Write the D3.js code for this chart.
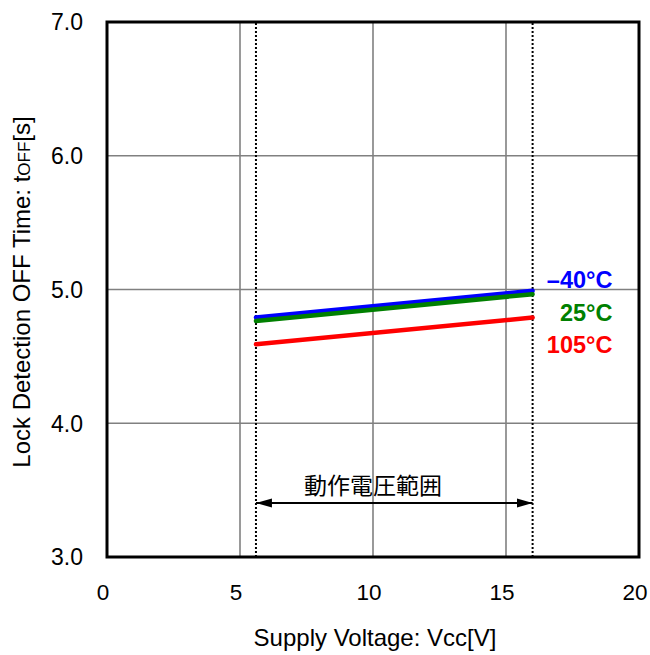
<!DOCTYPE html>
<html>
<head>
<meta charset="utf-8">
<script src="https://cdn.jsdelivr.net/npm/d3@7"></script>
<style>
  body { margin: 0; background: #fff; }
  text { font-family: "Liberation Sans", Arial, sans-serif; }
</style>
</head>
<body>
<svg id="chart"></svg>
<script>
// supply voltage [V] at the two ends of each curve
var voltage = [5.6, 16];
// lock detection OFF time [s] per temperature
var toffM40 = [4.79, 4.99];
var toff25 = [4.765, 4.965];
var toff105 = [4.59, 4.79];
var seriesNames = ["\u201340\u00b0C", "25\u00b0C", "105\u00b0C"];
var xTicks = [0, 5, 10, 15, 20];
var yTicks = [3.0, 4.0, 5.0, 6.0, 7.0];
var opRange = [5.6, 16];
var opLabel = "動作電圧範囲";

var width = 650, height = 655;
var margin = {top: 22, right: 11, bottom: 98, left: 107};

var svg = d3.select('#chart')
    .attr('width', width)
    .attr('height', height);

var x = d3.scaleLinear().domain([0, 20]).range([margin.left, width - margin.right]);
var y = d3.scaleLinear().domain([3, 7]).range([height - margin.bottom, margin.top]);

// grid
svg.append('g').selectAll('line.vgrid')
    .data(xTicks.slice(1, -1))
    .enter().append('line')
    .attr('x1', d => x(d)).attr('x2', d => x(d))
    .attr('y1', y(3)).attr('y2', y(7))
    .attr('stroke', '#808080').attr('stroke-width', 1.6);

svg.append('g').selectAll('line.hgrid')
    .data(yTicks.slice(1, -1))
    .enter().append('line')
    .attr('x1', x(0)).attr('x2', x(20))
    .attr('y1', d => y(d)).attr('y2', d => y(d))
    .attr('stroke', '#808080').attr('stroke-width', 1.6);

// operating range dotted lines
svg.append('g').selectAll('line.range')
    .data(opRange)
    .enter().append('line')
    .attr('x1', d => x(d)).attr('x2', d => x(d))
    .attr('y1', y(3)).attr('y2', y(7))
    .attr('stroke', '#000').attr('stroke-width', 2)
    .attr('stroke-dasharray', '2,2');

// arrow
var defs = svg.append('defs');
['start', 'end'].forEach(function(k) {
    defs.append('marker')
        .attr('id', 'arr-' + k)
        .attr('viewBox', '0 0 16 10')
        .attr('refX', k == 'end' ? 16 : 0).attr('refY', 5)
        .attr('markerWidth', 16).attr('markerHeight', 10)
        .attr('markerUnits', 'userSpaceOnUse')
        .attr('orient', 'auto')
        .append('path')
        .attr('d', k == 'end' ? 'M0,0.5 L16,5 L0,9.5 Z' : 'M16,0.5 L0,5 L16,9.5 Z')
        .attr('fill', '#000');
});

var arrowY = 503;
svg.append('line')
    .attr('x1', x(opRange[0])).attr('x2', x(opRange[1]))
    .attr('y1', arrowY).attr('y2', arrowY)
    .attr('stroke', '#000').attr('stroke-width', 2)
    .attr('marker-start', 'url(#arr-start)')
    .attr('marker-end', 'url(#arr-end)');

svg.append('text')
    .attr('x', x(10))
    .attr('y', 494)
    .attr('text-anchor', 'middle')
    .style('font-family', '"Noto Sans CJK JP", sans-serif')
    .style('font-size', '23px')
    .text(opLabel);

// curves
var line = d3.line()
    .x((d, i) => x(voltage[i]))
    .y(d => y(d));

var series = [
    {vals: toffM40, color: '#0000ff', dy: -3},
    {vals: toff25, color: '#008000', dy: 27},
    {vals: toff105, color: '#ff0000', dy: 35}
];

svg.append('g').selectAll('path')
    .data(series)
    .enter().append('path')
    .attr('d', d => line(d.vals))
    .attr('fill', 'none')
    .attr('stroke', d => d.color)
    .attr('stroke-width', 4.5)
    .attr('stroke-linecap', 'round');

svg.append('g').selectAll('text')
    .data(series)
    .enter().append('text')
    .attr('x', x(19))
    .attr('y', d => y(d.vals[d.vals.length - 1]) + d.dy)
    .attr('text-anchor', 'end')
    .attr('fill', d => d.color)
    .style('font-weight', 'bold')
    .style('font-size', '23.5px')
    .text((d, i) => seriesNames[i]);

// frame
svg.append('rect')
    .attr('x', x(0)).attr('y', y(7))
    .attr('width', x(20) - x(0)).attr('height', y(3) - y(7))
    .attr('fill', 'none').attr('stroke', '#000').attr('stroke-width', 3);

// tick labels
svg.append('g').selectAll('text')
    .data(yTicks)
    .enter().append('text')
    .attr('x', x(0) - 24)
    .attr('y', d => y(d))
    .attr('dy', '0.36em')
    .attr('text-anchor', 'end')
    .style('font-size', '23px')
    .text(d => d.toFixed(1));

svg.append('g').selectAll('text')
    .data(xTicks)
    .enter().append('text')
    .attr('x', d => x(d) - 4)
    .attr('y', y(3) + 43)
    .attr('text-anchor', 'middle')
    .style('font-size', '22.5px')
    .text(d => d);

// axis titles
svg.append('text')
    .attr('x', 375)
    .attr('y', 646)
    .attr('text-anchor', 'middle')
    .style('font-size', '24px')
    .text('Supply Voltage: Vcc[V]');

var yl = svg.append('text')
    .attr('transform', 'translate(30,' + 292 + ') rotate(-90)')
    .attr('text-anchor', 'middle')
    .style('font-size', '24px');
yl.append('tspan').text('Lock Detection OFF Time: t');
yl.append('tspan').style('font-size', '17px').text('OFF');
yl.append('tspan').text('[s]');
</script>
</body>
</html>
